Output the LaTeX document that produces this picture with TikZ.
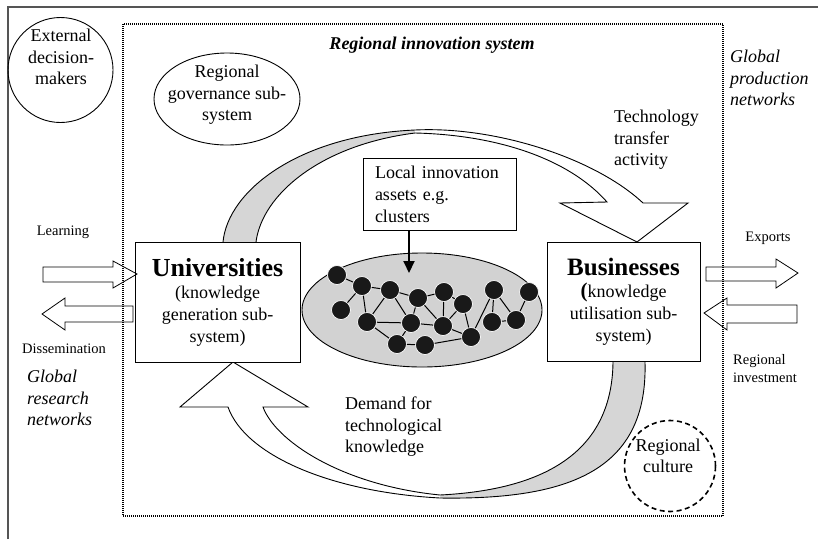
\documentclass[tikz,border=0pt]{standalone}
\usepackage{fontspec}
\setmainfont{Liberation Serif}
\usetikzlibrary{shapes.geometric,arrows.meta}
\definecolor{bandgray}{HTML}{D6D6D6}
\definecolor{ellgray}{HTML}{D2D2D2}
\definecolor{framegray}{HTML}{555555}
\begin{document}
\begin{tikzpicture}[x=1pt,y=-1pt,
  txt/.style={font=\fontsize{18}{21.5}\selectfont, inner sep=0pt},
  smalltxt/.style={font=\fontsize{14.5}{18}\selectfont, inner sep=0pt},
  boxnode/.style={draw, fill=white, line width=0.9pt, inner sep=0pt, align=center,
    font=\fontsize{18}{22}\selectfont},
  dot/.style={circle, fill=black!90, draw=white, line width=0.7pt, minimum size=19pt, inner sep=0pt},
  link/.style={line width=1pt},
  blockarrow/.style={draw, line width=0.8pt},
  bandline/.style={line width=0.9pt},
]
\useasboundingbox (0,0) rectangle (818,539);
% outer frame
\draw[framegray, line width=1.6pt] (8,539) -- (8,7) -- (818,7);
% regional innovation system (dotted)
\draw[line width=1.2pt, dash pattern=on 1pt off 1pt] (123,24) rectangle (723,516);
\node[txt, font=\fontsize{18}{21.5}\selectfont\bfseries\itshape] (ris) at (432,45) {Regional innovation system};

% external decision makers
\node[circle, draw, line width=0.9pt, minimum size=105pt] (ext) at (60.5,70) {};
\node[txt, align=center] (extt) at (61,57) {External\\decision-\\makers};

% regional governance
\node[ellipse, draw, line width=0.9pt, minimum width=146pt, minimum height=92pt] (gov) at (227,99) {};
\node[txt, align=center] (govt) at (227,95) {Regional\\governance sub-\\system};

% top curved arrow (technology transfer)
\fill[bandgray] (223,242) .. controls (228,190) and (300,135) .. (415,130) -- (415,133) .. controls (320,145) and (262,195) .. (256,242) -- cycle;
\draw[bandline] (223,242) .. controls (228,190) and (300,135) .. (415,130);
\draw[bandline] (256,242) .. controls (262,195) and (320,145) .. (415,133);
\filldraw[bandline, fill=white] (415,130) .. controls (495,126) and (595,158) .. (643,203) -- (688,203) -- (637,242) -- (560,203) -- (607,202) .. controls (570,160) and (500,135) .. (415,133);

% bottom curved arrow (demand)
\fill[bandgray] (613,362) .. controls (612,455) and (540,490) .. (440,495) -- (440,498) .. controls (570,500) and (648,470) .. (645,362) -- cycle;
\draw[bandline] (613,362) .. controls (612,455) and (540,490) .. (440,495);
\draw[bandline] (645,362) .. controls (648,470) and (570,500) .. (440,498);
\filldraw[bandline, fill=white] (440,495) .. controls (340,485) and (275,440) .. (263,407) -- (308,407) -- (233,362) -- (180,407) -- (228,407) .. controls (245,455) and (330,492) .. (440,498);

% main boxes
\node[boxnode, minimum width=165pt, minimum height=120pt] (uni) at (217.5,302)
  {{\fontsize{26}{28}\selectfont\bfseries Universities}\\(knowledge\\generation sub-\\system)};
\node[boxnode, minimum width=153pt, minimum height=119pt] (bus) at (623.5,301.5)
  {{\fontsize{25}{28}\selectfont\bfseries Businesses}\\{\bfseries\fontsize{21}{22}\selectfont(}knowledge\\utilisation sub-\\system)};

% local innovation assets
\node[boxnode, minimum width=153pt, minimum height=72pt, align=left, text width=129pt] (local) at (439.5,194)
  {Local innovation\\assets e.g.\\clusters};

% network
\node[ellipse, draw, line width=0.9pt, fill=ellgray, minimum width=240pt, minimum height=114pt] (net) at (422,310) {};
\coordinate (tip) at (409,273);
\draw[line width=2pt, -{Triangle[width=11pt,length=12pt]}] (local.south -| tip) -- (tip);

\node[dot] (n1) at (337,275) {};
\node[dot] (n2) at (362,286) {};
\node[dot] (n3) at (341,310) {};
\node[dot] (n4) at (390,290) {};
\node[dot] (n5) at (367,322) {};
\node[dot] (n6) at (418,298) {};
\node[dot] (n7) at (411,323) {};
\node[dot] (n8) at (444,292) {};
\node[dot] (n9) at (463,304) {};
\node[dot] (n10) at (443,326) {};
\node[dot] (n11) at (397,344) {};
\node[dot] (n12) at (425,345) {};
\node[dot] (n13) at (471,337) {};
\node[dot] (n14) at (494,290) {};
\node[dot] (n15) at (492,322) {};
\node[dot] (n16) at (516,320) {};
\node[dot] (n17) at (529,292) {};
\foreach \a/\b in {1/2,2/3,2/4,2/5,4/5,4/6,4/7,5/7,5/11,7/11,6/7,6/8,6/10,7/10,8/10,8/9,9/10,9/13,10/13,11/12,12/13,13/14,14/15,14/16,15/16,16/17}
  \draw[link] (n\a) -- (n\b);

% left block arrows
\draw[blockarrow] (43,267) -- (113,267) -- (113,261) -- (137,274) -- (113,288) -- (113,282) -- (43,282) -- cycle;
\draw[blockarrow] (42,314) -- (65,298) -- (65,306) -- (133,306) -- (133,322) -- (65,322) -- (65,330) -- cycle;
% right block arrows
\draw[blockarrow] (706,267) -- (776,267) -- (776,259) -- (798,273) -- (776,288) -- (776,281) -- (706,281) -- cycle;
\draw[blockarrow] (704,313) -- (727,298) -- (727,305) -- (797,305) -- (797,323) -- (727,323) -- (727,330) -- cycle;

% labels
\node[smalltxt] (learn) at (63,232) {Learning};
\node[smalltxt] (diss) at (64,349) {Dissemination};
\node[smalltxt] (exp) at (768,238) {Exports};
\node[smalltxt, anchor=west, align=left] (rinv) at (733,369) {Regional\\investment};
\node[txt, anchor=west, align=left, font=\fontsize{18}{21.5}\selectfont\itshape] (grn) at (27,398) {Global\\research\\networks};
\node[txt, anchor=west, align=left, font=\fontsize{18}{21.5}\selectfont\itshape] (gpn) at (730,78) {Global\\production\\networks};
\node[txt, anchor=west, align=left] (tta) at (614,140) {Technology\\transfer\\activity};
\node[txt, anchor=west, align=left] (dem) at (345,427) {Demand for\\technological\\knowledge};

% regional culture
\node[circle, draw, line width=1.6pt, dash pattern=on 5pt off 3.5pt, minimum size=91pt] (cult) at (670,466) {};
\node[txt, align=center] (cultt) at (668,456) {Regional\\culture};
\end{tikzpicture}
\end{document}
